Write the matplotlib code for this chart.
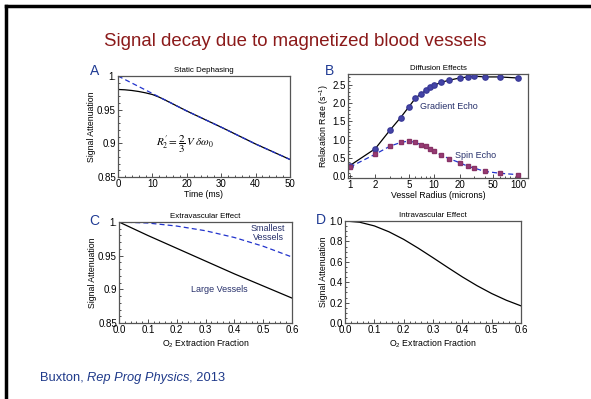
import matplotlib
matplotlib.use("Agg")
import matplotlib.pyplot as plt
from matplotlib.lines import Line2D
from matplotlib.ticker import FixedLocator, MultipleLocator, NullFormatter

plt.rcParams["font.family"] = ["Liberation Sans", "DejaVu Sans"]
plt.rcParams["mathtext.fontset"] = "custom"
plt.rcParams["mathtext.rm"] = "Liberation Sans"
plt.rcParams["mathtext.it"] = "Liberation Sans:italic"

# panel A: static dephasing
time_ms = [0, 10, 20, 30, 40, 50]
static_linear = [1.0, 0.974, 0.948, 0.924, 0.899, 0.876]
time_full = [0, 2, 4, 6, 8, 10, 12, 15, 20, 30, 40, 50]
static_full = [0.980, 0.9795, 0.9785, 0.977, 0.975, 0.9725, 0.9685, 0.961, 0.948, 0.924, 0.899, 0.876]

# panel B: diffusion effects
radius = [1, 2, 3, 4, 5, 6, 7, 8, 9, 10, 12, 15, 20, 25, 30, 40, 60, 100]
gradient_echo = [0.29, 0.75, 1.26, 1.60, 1.89, 2.13, 2.25, 2.34, 2.43, 2.48, 2.56, 2.62,
                 2.68, 2.71, 2.73, 2.71, 2.71, 2.68]
spin_echo = [0.25, 0.60, 0.82, 0.92, 0.96, 0.92, 0.86, 0.82, 0.74, 0.68, 0.58, 0.48,
             0.37, 0.27, 0.22, 0.13, 0.08, 0.04]

# panel C: extravascular effect
oef = [0.0, 0.1, 0.2, 0.3, 0.4, 0.5, 0.6]
large_vessels = [1.0, 0.980, 0.961, 0.942, 0.923, 0.905, 0.887]
smallest_vessels = [1.0, 0.9985, 0.994, 0.987, 0.977, 0.964, 0.948]

# panel D: intravascular effect
oef_fine = [0.0, 0.05, 0.1, 0.15, 0.2, 0.25, 0.3, 0.35, 0.4, 0.45, 0.5, 0.55, 0.6]
intravascular = [1.0, 0.988, 0.952, 0.894, 0.820, 0.733, 0.640, 0.545, 0.452, 0.366,
                 0.289, 0.223, 0.168]

W, H = 591, 399
fig = plt.figure(figsize=(W / 100, H / 100), dpi=100)

def px_axes(l, t, r, b):
    return fig.add_axes([l / W, 1 - b / H, (r - l) / W, (b - t) / H])

blue = "#2233cc"
navy = "#27306b"
letter_col = "#1f3a93"
fs_tick = 7
fs_lab = 6.3
fs_title = 5.7

def style(ax):
    for s in ax.spines.values():
        s.set_color("#555555")
        s.set_linewidth(0.9)
    ax.tick_params(which="both", direction="in", labelsize=fs_tick, pad=1.5,
                   color="#333333", width=0.6)
    ax.tick_params(which="major", length=3)
    ax.tick_params(which="minor", length=1.5)

def letter(s, x_px, y_px):
    fig.text(x_px / W, 1 - y_px / H, s, fontsize=10, color=letter_col,
             ha="center", va="center")

# A
axA = px_axes(118, 76, 290, 177)
axA.plot(time_full, static_full, color="black", lw=0.9)
axA.plot(time_ms, static_linear, color=blue, lw=0.9, ls=(0, (4, 2.5)))
axA.set_xlim(0, 50)
axA.set_ylim(0.85, 1.0)
axA.set_yticks([0.85, 0.9, 0.95, 1.0])
axA.set_yticklabels(["0.85", "0.9", "0.95", "1."])
axA.xaxis.set_minor_locator(MultipleLocator(2))
axA.yaxis.set_minor_locator(MultipleLocator(0.01))
axA.set_xlabel("Time (ms)", fontsize=fs_lab, labelpad=1)
axA.set_ylabel("Signal Attenuation", fontsize=fs_lab, labelpad=1)
axA.set_title("Static Dephasing", fontsize=fs_title, pad=3)
axA.text(19.5, 0.899, r"$R_2^{\prime} = \dfrac{2}{3}\,V\;\delta\omega_0$",
         fontsize=8, ha="center", va="center", math_fontfamily="stix")
style(axA)
letter("A", 95, 71)

# B
axB = px_axes(348, 74, 528, 178)
axB.plot(radius, gradient_echo, color="black", lw=0.9)
axB.plot(radius, gradient_echo, ls="none", marker="o", ms=3.8, color="#4444a8", mec="#3a3a98")
axB.plot(radius, spin_echo, color=blue, lw=0.9, ls=(0, (4, 2.5)))
axB.plot(radius, spin_echo, ls="none", marker="s", ms=3.1, color="#993b77", mec="#883366")
axB.set_xscale("log")
axB.set_xlim(0.95, 130)
axB.set_ylim(-0.05, 2.79)
axB.xaxis.set_major_locator(FixedLocator([1, 2, 5, 10, 20, 50, 100]))
axB.set_xticklabels(["1", "2", "5", "10", "20", "50", "100"])
axB.xaxis.set_minor_locator(FixedLocator([3, 4, 6, 7, 8, 9, 30, 40, 60, 70, 80, 90]))
axB.xaxis.set_minor_formatter(NullFormatter())
axB.set_yticks([0.0, 0.5, 1.0, 1.5, 2.0, 2.5])
axB.set_yticklabels(["0.0", "0.5", "1.0", "1.5", "2.0", "2.5"])
axB.yaxis.set_minor_locator(MultipleLocator(0.1))
axB.set_xlabel("Vessel Radius (microns)", fontsize=fs_lab, labelpad=1)
axB.set_ylabel("Relaxation Rate (s$^{-1}$)", fontsize=fs_lab, labelpad=1)
axB.set_title("Diffusion Effects", fontsize=fs_title, pad=3)
axB.text(15, 1.9, "Gradient Echo", fontsize=6.5, color=navy, ha="center", va="center")
axB.text(31, 0.57, "Spin Echo", fontsize=6.5, color=navy, ha="center", va="center")
style(axB)
letter("B", 329, 71)

# C
axC = px_axes(119, 222, 292, 323)
axC.plot(oef, large_vessels, color="black", lw=0.9)
axC.plot(oef, smallest_vessels, color=blue, lw=0.9, ls=(0, (4, 2.5)))
axC.set_xlim(0, 0.6)
axC.set_ylim(0.85, 1.0)
axC.set_yticks([0.85, 0.9, 0.95, 1.0])
axC.set_yticklabels(["0.85", "0.9", "0.95", "1."])
axC.set_xticks(oef)
axC.set_xticklabels(["0.0", "0.1", "0.2", "0.3", "0.4", "0.5", "0.6"])
axC.xaxis.set_minor_locator(MultipleLocator(0.02))
axC.yaxis.set_minor_locator(MultipleLocator(0.01))
axC.set_xlabel("O$_2$ Extraction Fraction", fontsize=fs_lab, labelpad=2)
axC.set_ylabel("Signal Attenuation", fontsize=fs_lab, labelpad=1)
axC.set_title("Extravascular Effect", fontsize=fs_title, pad=3)
axC.text(0.517, 0.9836, "Smallest\nVessels", fontsize=6.5, color=navy, ha="center",
         va="center", linespacing=1.1)
axC.text(0.347, 0.9, "Large Vessels", fontsize=6.5, color=navy, ha="center", va="center")
style(axC)
letter("C", 94, 221)

# D
axD = px_axes(345, 221, 521, 323)
axD.plot(oef_fine, intravascular, color="black", lw=0.9)
axD.set_xlim(0, 0.6)
axD.set_ylim(0, 1.0)
axD.set_yticks([0.0, 0.2, 0.4, 0.6, 0.8, 1.0])
axD.set_yticklabels(["0.0", "0.2", "0.4", "0.6", "0.8", "1.0"])
axD.set_xticks(oef)
axD.set_xticklabels(["0.0", "0.1", "0.2", "0.3", "0.4", "0.5", "0.6"])
axD.xaxis.set_minor_locator(MultipleLocator(0.02))
axD.yaxis.set_minor_locator(MultipleLocator(0.05))
axD.set_xlabel("O$_2$ Extraction Fraction", fontsize=fs_lab, labelpad=2)
axD.set_ylabel("Signal Attenuation", fontsize=fs_lab, labelpad=1)
axD.set_title("Intravascular Effect", fontsize=fs_title, pad=3)
style(axD)
letter("D", 321, 220)

# slide decoration
fig.add_artist(Line2D([6 / W, 1], [1 - 6 / H, 1 - 6 / H], color="black", lw=2.5))
fig.add_artist(Line2D([6 / W, 6 / W], [0, 1 - 6 / H], color="black", lw=2.5))
fig.text(0.5, 1 - 41 / H, "Signal decay due to magnetized blood vessels",
         fontsize=13.4, color="#8b1a1a", ha="center", va="center")

# footer with italic journal name
renderer = fig.canvas.get_renderer()
x = 40 / W
y = 1 - 378 / H
for part, style_ in [("Buxton, ", "normal"), ("Rep Prog Physics", "italic"), (", 2013", "normal")]:
    t = fig.text(x, y, part, fontsize=9.3, style=style_, color="#1f3a8a", va="center")
    bb = t.get_window_extent(renderer)
    x += (bb.width - (1 if style_ == "italic" else 0)) / W

fig.savefig("out.png", dpi=100)
